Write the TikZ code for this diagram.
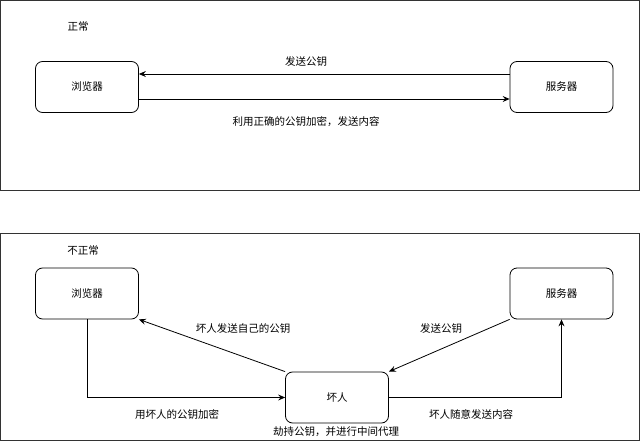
\documentclass[tikz,border=0pt]{standalone}
\usepackage{fontspec}
\usepackage{xcolor}
\usepackage{tikz}
\usetikzlibrary{arrows.meta,positioning}
\newfontfamily\cjk{Noto Sans CJK SC}
\definecolor{ink}{HTML}{000000}
\definecolor{frameline}{HTML}{333333}
\tikzset{
  box/.style={draw=ink,fill=white,rounded corners=7pt,line width=0.8pt,minimum width=103pt,minimum height=51pt,inner sep=0pt,font=\cjk\fontsize{10.5}{12}\selectfont,text=ink},
  panel/.style={draw=frameline,line width=0.8pt},
  arrow/.style={-{Stealth[length=7pt,width=6pt,inset=2.5pt]},line width=0.8pt,draw=ink},
  lbl/.style={font=\cjk\fontsize{10.5}{12}\selectfont,text=ink,inner sep=1pt},
}

\begin{document}
\begin{tikzpicture}[x=1pt,y=-1pt]
    \useasboundingbox (0,0) rectangle (640,441);
    \draw[panel] (0.5,0.5) rectangle (639.5,190);
    \draw[panel] (0.5,233) rectangle (639.5,440.5);

    % normal case
    \node[lbl] (ok) at (78,27) {正常};
    \node[box] (brwA) at (87,87) {浏览器};
    \node[box] (srvA) at (561.5,87) {服务器};
    \draw[arrow] ([yshift=13pt]srvA.west) -- ([yshift=13pt]brwA.east);
    \draw[arrow] ([yshift=-12pt]brwA.west -| brwA.east) -- ([yshift=-12pt]srvA.west);
    \node[lbl] (keyA) at (306,62) {发送公钥};
    \node[lbl] (sendA) at (306,122) {利用正确的公钥加密，发送内容};

    % attacked case
    \node[lbl] (bad) at (83,251) {不正常};
    \node[box] (brwB) at (87,293.5) {浏览器};
    \node[box] (srvB) at (561.5,293.5) {服务器};
    \node[box] (mitm) at (337,397.5) {坏人};
    \draw[arrow] (mitm.north west) -- (brwB.south east);
    \draw[arrow] (srvB.south west) -- (mitm.north east);
    \draw[arrow] (brwB.south) |- (mitm.west);
    \draw[arrow] (mitm.east) -| (srvB.south);
    \node[lbl] (fakekey) at (243,329) {坏人发送自己的公钥};
    \node[lbl] (keyB) at (441,329) {发送公钥};
    \node[lbl] (encB) at (177,414) {用坏人的公钥加密};
    \node[lbl] (sendB) at (471,414) {坏人随意发送内容};
    \node[lbl] (proxy) at (336,432) {劫持公钥，并进行中间代理};
  \end{tikzpicture}
\end{document}
